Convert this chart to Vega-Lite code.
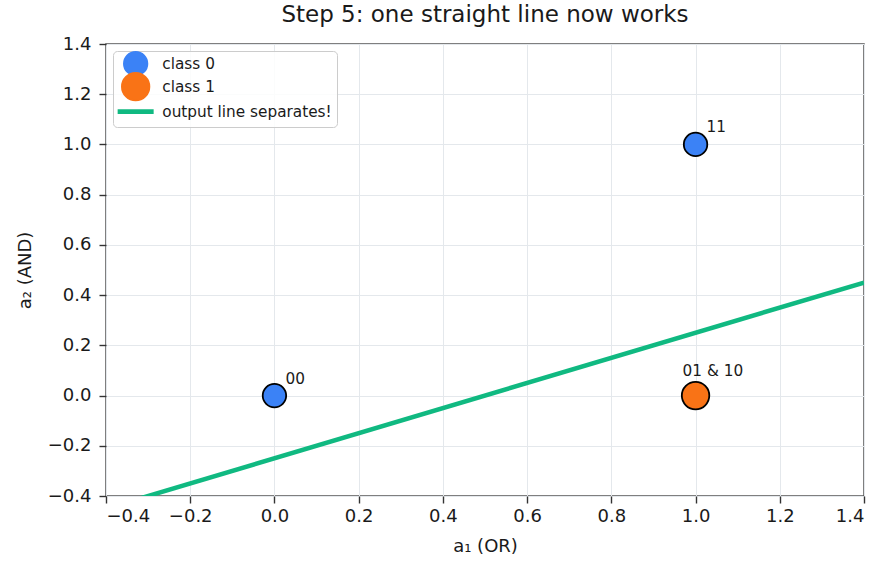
{
  "$schema": "https://vega.github.io/schema/vega-lite/v6.json",
  "width": 758,
  "height": 452,
  "autosize": {"type": "none"},
  "padding": {"left": 106, "top": 44, "right": 29, "bottom": 77},
  "background": "white",
  "title": {
    "text": "Step 5: one straight line now works",
    "font": "DejaVu Sans",
    "fontSize": 23,
    "fontWeight": "normal",
    "color": "#1a1a1a",
    "anchor": "middle",
    "offset": 8
  },
  "config": {
    "font": "DejaVu Sans",
    "view": {"stroke": "#555", "strokeWidth": 1.5},
    "axis": {
      "domain": false,
      "grid": true,
      "gridColor": "#e4e8ec",
      "gridWidth": 1,
      "tickColor": "#333",
      "tickSize": 7,
      "tickWidth": 1.4,
      "labelFont": "DejaVu Sans",
      "labelFontSize": 18,
      "labelColor": "#1a1a1a",
      "labelPadding": 5,
      "titleFont": "DejaVu Sans",
      "titleFontSize": 18,
      "titleFontWeight": "normal",
      "titleColor": "#1a1a1a"
    }
  },
  "datasets": {
    "points": [
      {"a1": 0, "a2": 0, "cls": "class 0", "label": "00"},
      {"a1": 1, "a2": 1, "cls": "class 0", "label": "11"},
      {"a1": 1, "a2": 0, "cls": "class 1", "label": "01 & 10"}
    ],
    "boundary": [
      {"a1": -0.4, "a2": -0.45, "cls": "output line separates!"},
      {"a1": 1.4, "a2": 0.45, "cls": "output line separates!"}
    ]
  },
  "encoding": {
    "x": {
      "field": "a1",
      "type": "quantitative",
      "scale": {"domain": [-0.4, 1.4], "nice": false, "zero": false},
      "axis": {
        "title": "a₁ (OR)",
        "values": [-0.4, -0.2, 0, 0.2, 0.4, 0.6, 0.8, 1.0, 1.2, 1.4],
        "labelExpr": "replace(format(datum.value, '.1f'), '-', '−')",
        "labelPadding": 4,
        "titlePadding": 12
      }
    },
    "y": {
      "field": "a2",
      "type": "quantitative",
      "scale": {"domain": [-0.4, 1.4], "nice": false, "zero": false},
      "axis": {
        "title": "a₂ (AND)",
        "values": [-0.4, -0.2, 0, 0.2, 0.4, 0.6, 0.8, 1.0, 1.2, 1.4],
        "labelExpr": "replace(format(datum.value, '.1f'), '-', '−')",
        "labelPadding": 8,
        "titlePadding": 13
      }
    }
  },
  "layer": [
    {
      "data": {"name": "boundary"},
      "mark": {"type": "line", "strokeWidth": 4.5, "clip": true},
      "encoding": {
        "color": {
          "field": "cls",
          "type": "nominal",
          "scale": {
            "domain": ["class 0", "class 1", "output line separates!"],
            "range": ["#3b82f6", "#f97316", "#10b981"]
          },
          "legend": {
            "title": null,
            "orient": "top-left",
            "offset": 7,
            "padding": 5,
            "fillColor": "rgba(255,255,255,0.85)",
            "strokeColor": "#cccccc",
            "cornerRadius": 4,
            "labelFont": "DejaVu Sans",
            "labelFontSize": 15.3,
            "labelColor": "#1a1a1a",
            "labelLimit": 0,
            "labelOffset": 19,
            "rowPadding": -17,
            "symbolOffset": 10,
            "symbolSize": 1296,
            "symbolStrokeColor": "black",
            "symbolStrokeWidth": 1.8,
            "encode": {
              "symbols": {
                "update": {
                  "shape": {"signal": "datum.value === 'output line separates!' ? 'stroke' : 'circle'"},
                  "size": {"signal": "datum.value === 'output line separates!' ? 1296 : (datum.value === 'class 1' ? 755 : 550)"},
                  "fill": {"signal": "datum.value === 'output line separates!' ? 'transparent' : scale('color', datum.value)"},
                  "fillOpacity": {"value": 1},
                  "stroke": {"signal": "datum.value === 'output line separates!' ? '#10b981' : '#000000'"},
                  "strokeOpacity": {"value": 1},
                  "strokeWidth": {"signal": "datum.value === 'output line separates!' ? 4.8 : 1.8"},
                  "opacity": {"value": 1}
                }
              }
            }
          }
        }
      }
    },
    {
      "data": {"name": "points"},
      "mark": {"type": "point", "filled": true, "stroke": "black", "strokeWidth": 1.8, "opacity": 1, "shape": "circle"},
      "encoding": {
        "color": {"field": "cls", "type": "nominal"},
        "size": {
          "field": "cls",
          "type": "nominal",
          "scale": {"domain": ["class 0", "class 1"], "range": [550, 755]},
          "legend": null
        }
      }
    },
    {
      "data": {"name": "points"},
      "transform": [{"filter": "datum.cls === 'class 0'"}],
      "mark": {"type": "text", "align": "left", "baseline": "alphabetic", "dx": 11, "dy": -12, "fontSize": 15.3, "color": "#1a1a1a"},
      "encoding": {"text": {"field": "label"}}
    },
    {
      "data": {"name": "points"},
      "transform": [{"filter": "datum.cls === 'class 1'"}],
      "mark": {"type": "text", "align": "left", "baseline": "alphabetic", "dx": -13, "dy": -20, "fontSize": 15.3, "color": "#1a1a1a"},
      "encoding": {"text": {"field": "label"}}
    }
  ]
}
